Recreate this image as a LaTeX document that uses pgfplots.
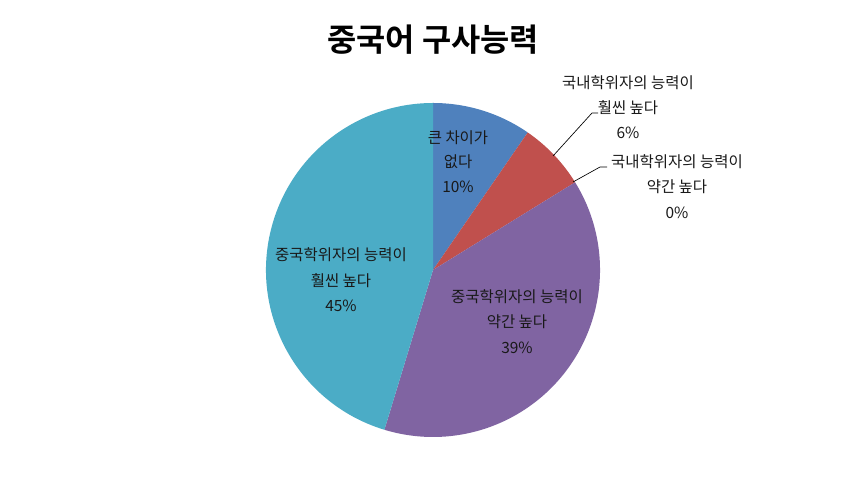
\documentclass[border=0pt]{standalone}
\usepackage{pgfplots}
\pgfplotsset{compat=1.18}
\usepackage{pgfplotstable}
\usepackage{fontspec}
\setmainfont{Noto Sans CJK KR}
\newfontfamily\titlefont[BoldFont={Noto Sans CJK KR Bold}]{Noto Sans CJK KR}
\definecolor{sblue}{HTML}{4F81BD}
\definecolor{sred}{HTML}{C0504D}
\definecolor{sgreen}{HTML}{9BBB59}
\definecolor{spurple}{HTML}{8064A2}
\definecolor{steal}{HTML}{4BACC6}
\pgfplotstableread{
value color
9.6 sblue
6.6 sred
0 sgreen
38.5 spurple
45.3 steal
}\piedata
\begin{document}
\begin{tikzpicture}
\begin{axis}[width=649.5pt,height=357.75pt,scale only axis,
  xmin=0,xmax=866,ymin=0,ymax=477,hide axis,clip=false]
\path[use as bounding box,fill=white] (axis cs:0,0) rectangle (axis cs:866,477);
\pgfplotstablegetrowsof{\piedata}
\pgfmathtruncatemacro{\nrows}{\pgfplotsretval-1}
\def\curang{90}
\pgfplotsforeachungrouped \i in {0,...,\nrows}{%
  \pgfplotstablegetelem{\i}{value}\of{\piedata}\let\val\pgfplotsretval
  \pgfplotstablegetelem{\i}{color}\of{\piedata}\let\col\pgfplotsretval
  \pgfmathsetmacro{\endang}{\curang-3.6*\val}%
  \pgfmathparse{\val>0?1:0}%
  \ifnum\pgfmathresult=1
  \edef\temp{\noexpand\fill[\col] (axis cs:433,207) -- ++(\curang:125.25pt) arc[start angle=\curang,end angle=\endang,radius=125.25pt] -- cycle;}%
  \temp
  \fi
  \global\let\curang\endang
}
% title
\node[font=\titlefont\bfseries\fontsize{23.8}{28}\selectfont] at (axis cs:433,437) {중국어 구사능력};
% labels
\begin{scope}[every node/.style={font=\fontsize{11.6}{14}\selectfont,text=black!90}]
\node at (axis cs:458,339) {큰 차이가};
\node at (axis cs:458,315) {없다};
\node at (axis cs:458,290) {10\%};
\node at (axis cs:628,394) {국내학위자의 능력이};
\node at (axis cs:628,369) {훨씬 높다};
\node at (axis cs:628,344) {6\%};
\node at (axis cs:677,315) {국내학위자의 능력이};
\node at (axis cs:677,290) {약간 높다};
\node at (axis cs:677,264) {0\%};
\node at (axis cs:341,222) {중국학위자의 능력이};
\node at (axis cs:341,196) {훨씬 높다};
\node at (axis cs:341,171) {45\%};
\node at (axis cs:517,180) {중국학위자의 능력이};
\node at (axis cs:517,155) {약간 높다};
\node at (axis cs:517,129) {39\%};
\end{scope}
\draw[black,line width=0.5pt] (axis cs:553,321) -- (axis cs:592,364) -- (axis cs:598,364);
\draw[black,line width=0.5pt] (axis cs:573,295) -- (axis cs:600,310) -- (axis cs:607,310);
\end{axis}
\end{tikzpicture}
\end{document}
